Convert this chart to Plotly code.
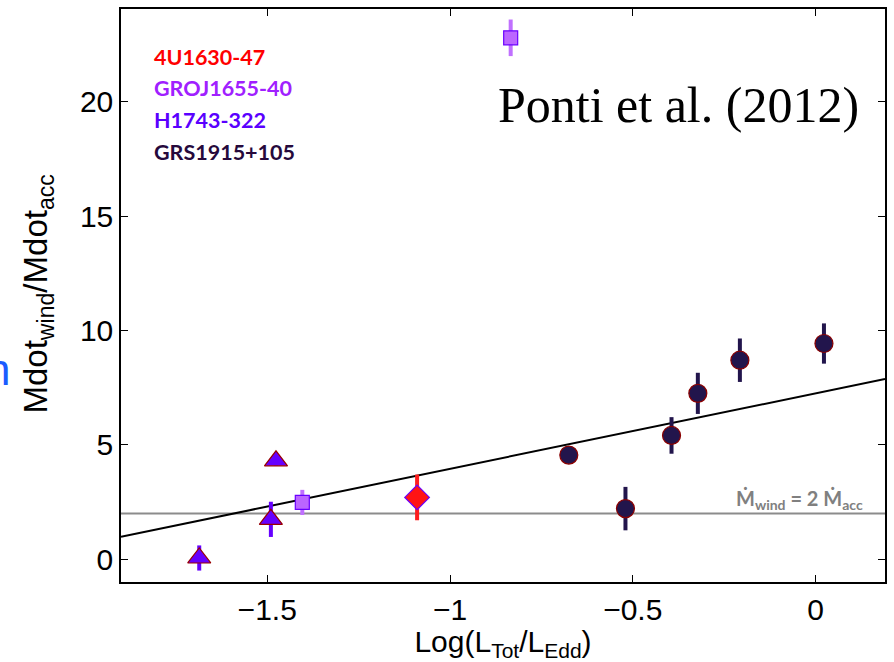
import numpy as np
import plotly.graph_objects as go

# Sources, one entry per object
names = ["4U1630-47", "GROJ1655-40", "H1743-322", "GRS1915+105"]
label_colors = ["#ff0000", "#a020ff", "#5a00ff", "#26093c"]

# log(L_tot / L_Edd)
x_4u = [-1.09]
x_gro = [-0.834, -1.404]
x_h17 = [-1.686, -1.476, -1.49]
x_grs = [-0.675, -0.52, -0.394, -0.322, -0.207, 0.023]

# Mdot_wind / Mdot_acc and 1-sigma errors
y_4u = [2.70]
e_4u = [1.0]
y_gro = [22.8, 2.48]
e_gro = [0.8, 0.55]
y_h17 = [0.05, 4.3, 1.74]
e_h17 = [0.55, 0.2, 0.77]
y_grs = [4.55, 2.21, 5.41, 7.25, 8.7, 9.43]
e_grs = [0.0, 0.95, 0.8, 0.9, 0.95, 0.88]

# linear trend and reference level
fit_slope = 3.3
fit_intercept = 7.25
ref_level = 2.0

x_range = [-1.9, 0.19]
y_range = [-1.0, 24.06]

sans = "Liberation Sans Narrow, Arial Narrow, Liberation Sans"
tick_font = dict(family=sans, size=30, color="black")

fig = go.Figure()

xf = np.array(x_range)
fig.add_trace(go.Scatter(x=xf, y=fit_slope * xf + fit_intercept, mode="lines",
                         line=dict(color="black", width=2), showlegend=False, hoverinfo="skip"))

fig.add_shape(type="line", xref="paper", x0=0, x1=1, yref="y", y0=ref_level, y1=ref_level,
              line=dict(color="#8c8c8c", width=2), layer="below")


def add_series(x, y, err, fill, edge, symbol, size, bar_color):
    fig.add_trace(go.Scatter(
        x=x, y=y, mode="markers",
        error_y=dict(type="data", array=err, visible=True, thickness=4, width=0, color=bar_color),
        marker=dict(symbol=symbol, size=size, color=fill, line=dict(color=edge, width=1.2)),
        showlegend=False))


add_series(x_4u, y_4u, e_4u, "#ff1414", "#6a00ff", "diamond", 19, "#ff1e1e")
add_series(x_gro, y_gro, e_gro, "#bb66ff", "#6a00ff", "square", 14, "#c070ff")
add_series(x_h17, y_h17, e_h17, "#6600ff", "#990000", "triangle-up", 20, "#6600ff")
add_series(x_grs, y_grs, e_grs, "#22154c", "#8b0000", "circle", 18, "#22154c")

# colour-coded source names
for i, (n, c) in enumerate(zip(names, label_colors)):
    fig.add_annotation(text=n, xref="paper", yref="paper", x=0.040, y=0.917 - i * 0.0555,
                       xanchor="left", yanchor="middle", showarrow=False,
                       font=dict(family="Lato", size=21.5, color=c, weight="bold"))

fig.add_annotation(text="Ponti et al. (2012)", xref="paper", yref="paper", x=0.968, y=0.833,
                   xanchor="right", yanchor="middle", showarrow=False,
                   font=dict(family="Liberation Serif", size=50, color="black"))

fig.add_annotation(text="M\u0307<sub>wind</sub> = 2 M\u0307<sub>acc</sub>", xref="paper", yref="y",
                   x=0.974, y=ref_level, xanchor="right", yanchor="bottom", yshift=-2, showarrow=False,
                   font=dict(family="Lato", size=20, color="#808080", weight="bold"))

# y-axis title, placed by hand
fig.add_annotation(text="Mdot<sub>wind</sub>/Mdot<sub>acc</sub>", xref="paper", yref="paper",
                   x=-0.109, y=0.503, xanchor="center", yanchor="middle", textangle=-90,
                   showarrow=False, font=dict(family=sans, size=33, color="black"))

# clipped glyph at the left edge of the page
fig.add_annotation(text="n", xref="paper", yref="paper", x=-0.143, y=0.37,
                   xanchor="right", yanchor="middle", showarrow=False,
                   font=dict(family="Liberation Sans", size=44, color="#1a5cff"))

axis_common = dict(showline=True, linecolor="black", linewidth=1.5, mirror="ticks",
                   ticks="inside", ticklen=7, tickcolor="black", tickwidth=1,
                   showgrid=False, zeroline=False, tickfont=tick_font)

fig.update_xaxes(range=x_range, tickvals=[-1.5, -1, -0.5, 0],
                 ticktext=["\u22121.5", "\u22121", "\u22120.5", "0"],
                 title=dict(text="Log(L<sub>Tot</sub>/L<sub>Edd</sub>)", font=tick_font, standoff=0),
                 **axis_common)
fig.update_yaxes(range=y_range, tickvals=[0, 5, 10, 15, 20], **axis_common)

fig.update_layout(width=894, height=662, margin=dict(l=121, r=8, t=7, b=80),
                  plot_bgcolor="white", paper_bgcolor="white")

fig.write_html("out.html")
